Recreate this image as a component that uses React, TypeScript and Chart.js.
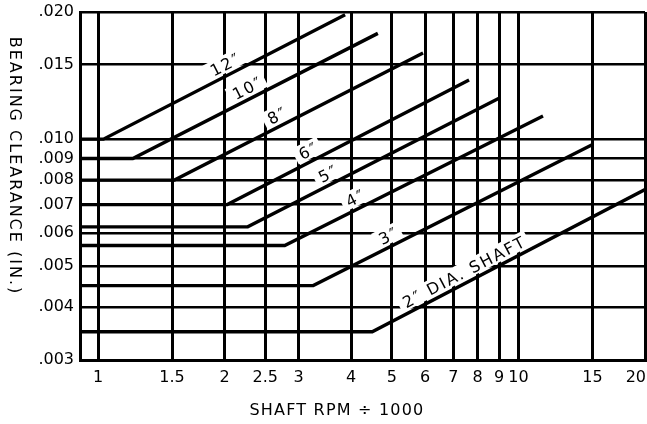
import React, { useEffect, useRef } from 'react';
import { Chart, registerables } from 'chart.js';

Chart.register(...registerables);

const X_MIN = 0.906;
const X_MAX = 20;
const Y_MIN = 0.003;
const Y_MAX = 0.02;

const xTicks = [1, 1.5, 2, 2.5, 3, 4, 5, 6, 7, 8, 9, 10, 15, 20];
const yTicks = [0.003, 0.004, 0.005, 0.006, 0.007, 0.008, 0.009, 0.01, 0.015, 0.02];

const shaftLabels = ['12\u2033', '10\u2033', '8\u2033', '6\u2033', '5\u2033', '4\u2033', '3\u2033', '2\u2033 DIA. SHAFT'];
const baseClearance = [0.01, 0.009, 0.008, 0.007, 0.0062, 0.0056, 0.0045, 0.0035];
const breakRpm = [1.03, 1.21, 1.52, 2.03, 2.27, 2.78, 3.25, 4.49];
const endRpm = [3.87, 4.63, 5.93, 7.63, 8.99, 11.44, 14.97, 20];
const endClearance = [0.0197, 0.0178, 0.016, 0.0138, 0.0125, 0.01135, 0.0097, 0.0076];
const labelRpm = [2.055, 2.32, 2.73, 3.24, 3.61, 4.19, 5.02, 7.6];

const xTitle = 'SHAFT RPM \u00F7 1000';
const yTitle = 'BEARING CLEARANCE (IN.)';

const FONT = '"DejaVu Sans", "Liberation Sans", sans-serif';

const labelPlugin = {
  id: 'shaftLabels',
  afterDatasetsDraw(chart: any) {
    const { ctx } = chart;
    const xs = chart.scales.x;
    const ys = chart.scales.y;
    ctx.save();
    ctx.font = `16px ${FONT}`;
    (ctx as any).letterSpacing = '2px';
    shaftLabels.forEach((txt, i) => {
      const x0 = xs.getPixelForValue(breakRpm[i]);
      const y0 = ys.getPixelForValue(baseClearance[i]);
      const x1 = xs.getPixelForValue(endRpm[i]);
      const y1 = ys.getPixelForValue(endClearance[i]);
      const ang = Math.atan2(y1 - y0, x1 - x0);
      const ax = xs.getPixelForValue(labelRpm[i]);
      const t = (ax - x0) / (x1 - x0);
      const ay = y0 + t * (y1 - y0);
      ctx.save();
      ctx.translate(ax, ay);
      ctx.rotate(ang);
      const w = ctx.measureText(txt).width;
      const gap = 5;
      ctx.fillStyle = '#fff';
      ctx.fillRect(-w / 2 - 4, -gap - 15, w + 8, 15 + gap - 2.8);
      ctx.fillStyle = '#000';
      ctx.textAlign = 'center';
      ctx.textBaseline = 'alphabetic';
      ctx.fillText(txt, 1, -gap);
      ctx.restore();
    });
    ctx.restore();
  },
  afterDraw(chart: any) {
    const { ctx } = chart;
    const xs = chart.scales.x;
    ctx.save();
    ctx.fillStyle = '#000';
    ctx.textBaseline = 'middle';
    ctx.font = `16px ${FONT}`;
    // x tick labels
    ctx.textAlign = 'center';
    xTicks.forEach((v) => {
      const s = String(v);
      const w = ctx.measureText(s).width;
      let px = xs.getPixelForValue(v);
      if (px + w / 2 > 646) px = 646 - w / 2;
      ctx.fillText(s, px, 378);
    });
    // axis titles
    (ctx as any).letterSpacing = '2px';
    ctx.save();
    ctx.translate(14, 166);
    ctx.rotate(Math.PI / 2);
    ctx.fillText(yTitle, 0, 0);
    ctx.restore();
    (ctx as any).letterSpacing = '1.2px';
    ctx.fillText(xTitle, 337, 411);
    ctx.restore();
  },
};

export default function App() {
  const ref = useRef<HTMLCanvasElement | null>(null);
  useEffect(() => {
    if (!ref.current) return;
    const datasets = shaftLabels.map((lbl, i) => ({
      label: lbl,
      data: [
        { x: X_MIN, y: baseClearance[i] },
        { x: breakRpm[i], y: baseClearance[i] },
        { x: endRpm[i], y: endClearance[i] },
      ],
      borderColor: '#000',
      borderWidth: 3.4,
      pointRadius: 0,
      fill: false,
      tension: 0,
      borderCapStyle: 'butt' as const,
    }));
    const chart = new Chart(ref.current, {
      type: 'line',
      data: { datasets },
      options: {
        animation: false,
        responsive: false,
        events: [],
        layout: { padding: { top: 12, right: 2, left: 0, bottom: 0 } },
        plugins: { legend: { display: false }, tooltip: { enabled: false } },
        scales: {
          x: {
            type: 'logarithmic',
            min: X_MIN,
            max: X_MAX,
            afterBuildTicks: (s: any) => {
              s.ticks = xTicks.map((v) => ({ value: v }));
            },
            afterFit: (s: any) => {
              s.height = 64;
              s.paddingLeft = 0;
              s.paddingRight = 0;
            },
            ticks: { display: false, autoSkip: false },
            grid: { color: '#000', lineWidth: 3, drawTicks: false },
            border: { color: '#000', width: 3 },
          },
          y: {
            type: 'logarithmic',
            min: Y_MIN,
            max: Y_MAX,
            afterBuildTicks: (s: any) => {
              s.ticks = yTicks.map((v) => ({ value: v }));
            },
            afterFit: (s: any) => {
              s.width = 80;
              s.paddingTop = 0;
              s.paddingBottom = 0;
            },
            ticks: {
              autoSkip: false,
              padding: 6,
              color: '#000',
              font: { family: FONT, size: 16 },
              callback: (v: any) => '.' + String(Math.round(Number(v) * 1000)).padStart(3, '0'),
            },
            grid: { color: '#000', lineWidth: 2.6, drawTicks: false },
            border: { color: '#000', width: 3 },
          },
        },
      },
      plugins: [labelPlugin],
    });
    return () => chart.destroy();
  }, []);
  return (
    <div style={{ position: 'absolute', left: 0, top: 0, width: 647, height: 424, background: '#fff' }}>
      <canvas ref={ref} width={647} height={424} style={{ display: 'block' }} />
    </div>
  );
}
